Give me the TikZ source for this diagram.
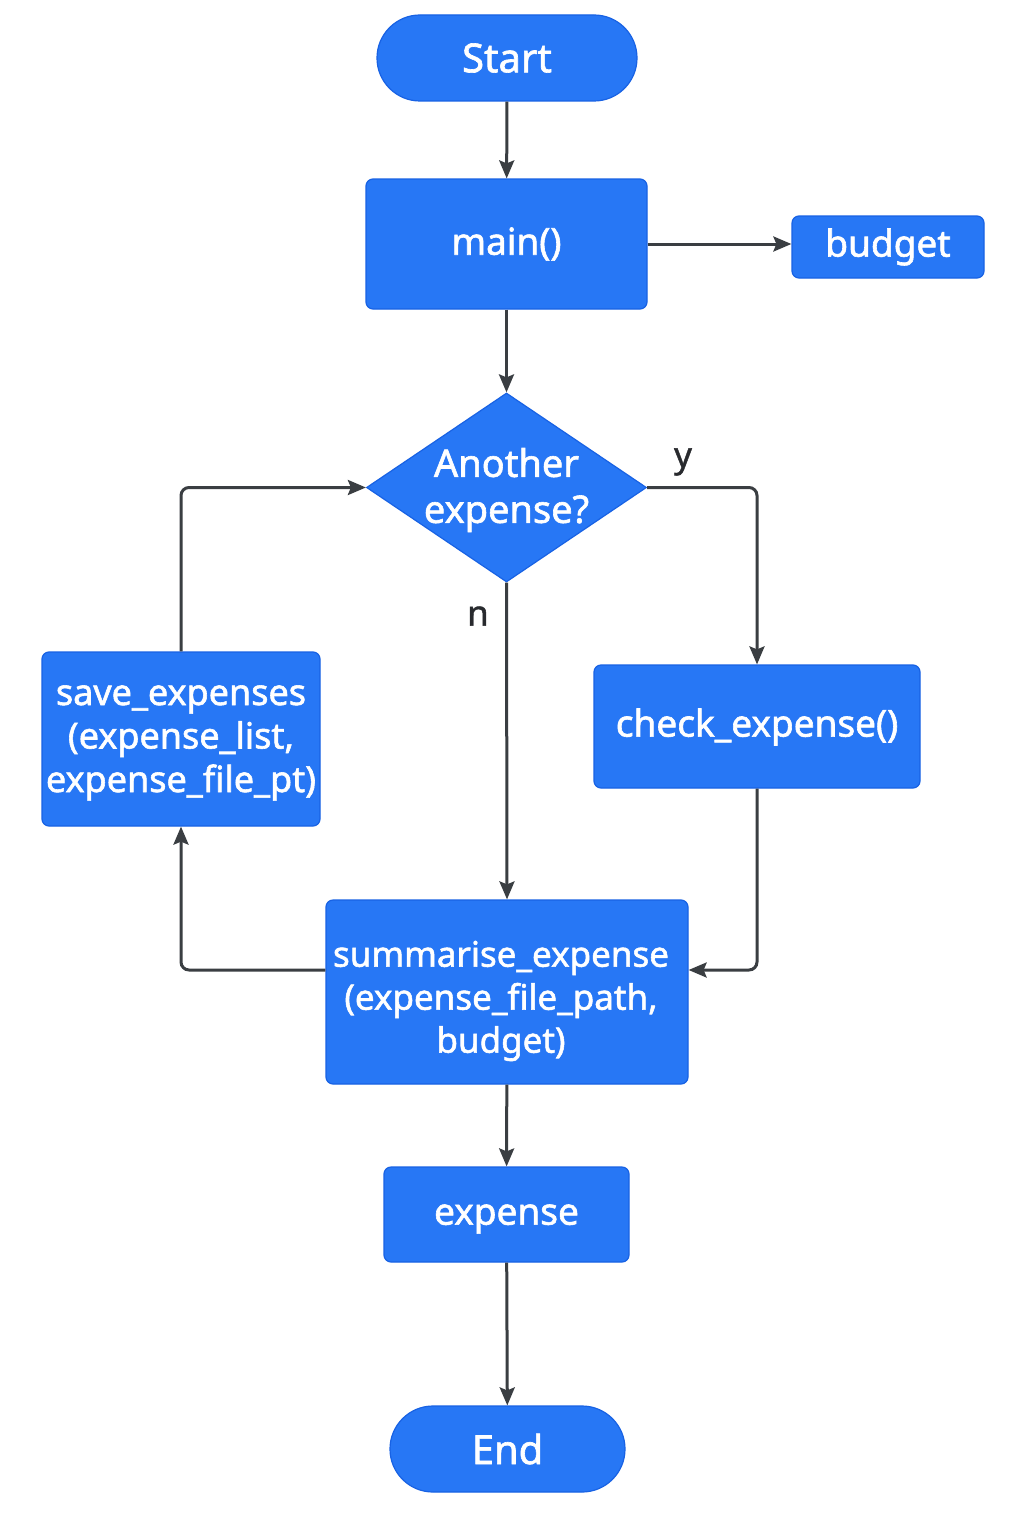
\documentclass[tikz,border=0pt]{standalone}
\usepackage{fontspec}
\setmainfont{Noto Sans}[FakeBold=1.6]
\newfontfamily\lblfont{Noto Sans}[FakeBold=1.2]
\usetikzlibrary{arrows.meta,shapes.geometric}
\definecolor{boxblue}{RGB}{39,119,245}
\definecolor{boxedge}{RGB}{24,98,228}
\definecolor{linegray}{RGB}{58,62,66}
\definecolor{lblgray}{RGB}{40,42,46}
\tikzset{
  procbox/.style={draw=boxedge, line width=1.2pt, fill=boxblue, rounded corners=7pt,
    inner sep=0pt, text=white, align=center, font=\fontsize{37}{44}\selectfont},
  boxtext/.style={inner sep=0pt, text=white, align=center, font=\fontsize{36}{43.5}\selectfont},
  termbox/.style={draw=boxedge, line width=1.2pt, fill=boxblue, rounded corners=43pt,
    inner sep=0pt, text=white, align=center, font=\fontsize{40}{46}\selectfont},
  decbox/.style={diamond, draw=boxedge, line width=1.2pt, fill=boxblue, inner sep=0pt},
  dectext/.style={text=white, align=center, font=\fontsize{38}{46}\selectfont},
  lbl/.style={text=lblgray, font=\lblfont\fontsize{35}{40}\selectfont},
  arr/.style={draw=linegray, line width=3pt, -{Stealth[length=18pt,width=15pt,inset=3pt]}, rounded corners=8pt}
}
\begin{document}
\begin{tikzpicture}[x=1pt,y=-1pt]
\useasboundingbox[fill=white] (0,0) rectangle (1024,1536);

\node[termbox, minimum width=260pt, minimum height=86pt] (start) at (507,58) {Start};
\node[procbox, minimum width=281pt, minimum height=130pt] (main) at (506.5,244) {main()};
\node[procbox, minimum width=192pt, minimum height=62pt] (budget) at (888,247) {budget};
\node[decbox, minimum width=280pt, minimum height=189pt] (dec) at (506.5,487.5) {};
\node[dectext] (dectxt) at (506.5,490) {Another\\expense?};
\node[procbox, minimum width=326pt, minimum height=123pt] (check) at (757,726.5) {};
\node[boxtext, font=\fontsize{37}{44}\selectfont] (checktxt) at (757,727) {check\_expense()};
\node[procbox, minimum width=278pt, minimum height=174pt] (save) at (181,739) {};
\node[boxtext] (savetxt) at (181,743) {save\_expenses\\(expense\_list,\\expense\_file\_pt)};
\node[procbox, minimum width=362pt, minimum height=184pt] (summ) at (507,992) {};
\node[boxtext, font=\fontsize{35}{43}\selectfont] (summtxt) at (501,1001) {summarise\_expense\\(expense\_file\_path,\\budget)};
\node[procbox, minimum width=245pt, minimum height=95pt] (expense) at (506.5,1214.5) {};
\node[boxtext, font=\fontsize{37}{44}\selectfont] (exptxt) at (506.5,1219) {expense};
\node[termbox, minimum width=235pt, minimum height=86pt] (stop) at (507.5,1449) {End};

\node[lbl] (ylbl) at (683,462) {y};
\node[lbl] (nlbl) at (478,616) {n};

\draw[arr] (start) -- (main);
\draw[arr] (main.east) -- (main.east -| budget.west);
\draw[arr] (main) -- (dec);
\draw[arr] (dec.east) -| (check.north);
\draw[arr] (dec.south) -- (summ.north);
\draw[arr] (check.south) |- ([yshift=22pt]summ.east);
\draw[arr] ([yshift=22pt]summ.west) -| (save.south);
\draw[arr] (save.north) |- (dec.west);
\draw[arr] (summ) -- (expense);
\draw[arr] (expense) -- (stop);
\end{tikzpicture}
\end{document}
